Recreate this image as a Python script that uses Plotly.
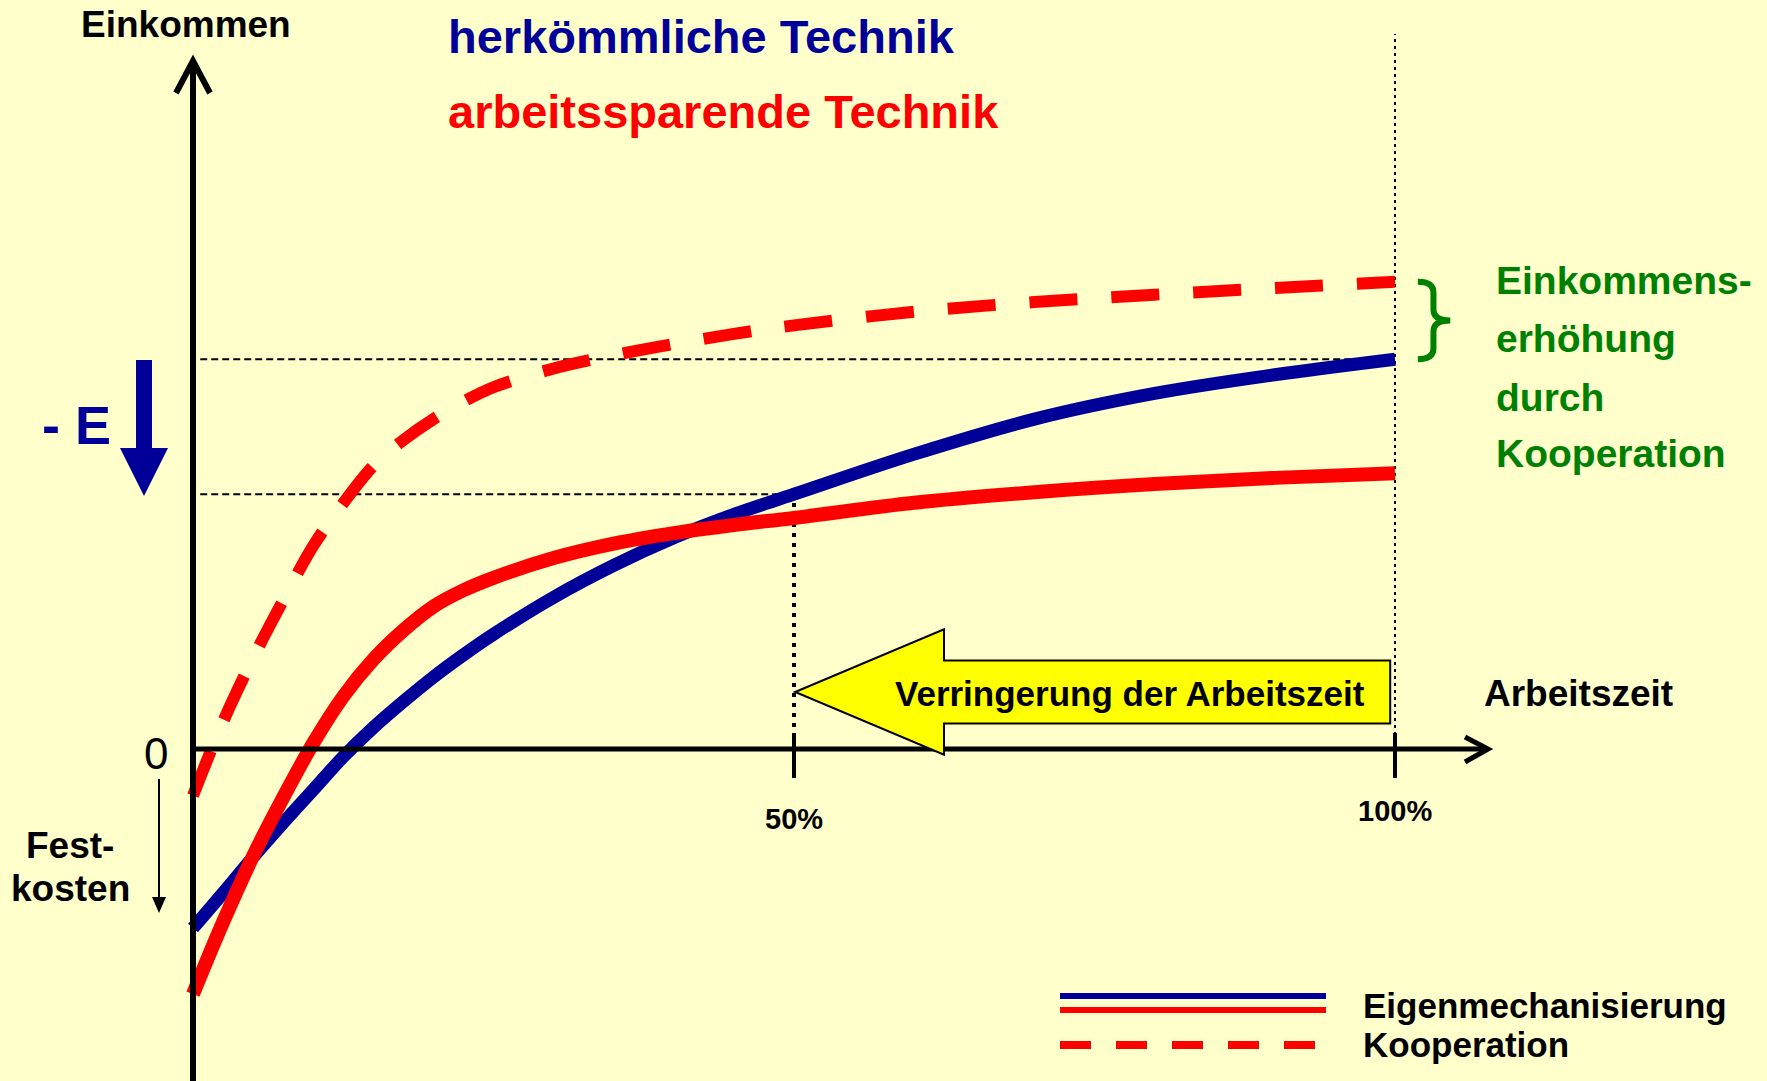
import plotly.graph_objects as go

W, H = 1767, 1081

# ---------------- data ----------------
x_pct = [0, 2.5, 5, 7.5, 10, 12.5, 15, 17.5, 20, 22.5, 25, 30, 35, 40, 45, 50, 60, 70, 80, 90, 100]
# herkömmliche Technik, Eigenmechanisierung (blue solid)
blue_eigen = [-46, -37, -27.8, -19, -10.5, -2, 5.5, 12.2, 18.5, 24.2, 29.5, 39, 47.2, 54.3, 60.3, 65.5,
              75.8, 84.8, 91.4, 96.2, 100.2]
# arbeitssparende Technik, Eigenmechanisierung (red solid)
red_eigen = [-63, -44.5, -27.5, -12.5, 1.5, 13.5, 23, 30.5, 36.6, 40.8, 44, 49.1, 52.8, 55.5, 57.6, 59.4,
             63.3, 66, 68.1, 69.7, 70.9]
# arbeitssparende Technik, Kooperation (red dashed)
red_koop = [-12, 7, 23.4, 38.2, 52.2, 63.2, 72.8, 79.4, 84.8, 89.3, 93, 97.8, 101.2, 104.1, 106.7, 108.9,
            112.4, 114.9, 116.8, 118.5, 120.1]

tick_vals = [50, 100]
tick_text = ["50%", "100%"]

NAVY = "#000099"
RED = "#FF0000"
GREEN = "#008000"
BG = "#FFFFCC"
SANS = "Liberation Sans, Arial, sans-serif"

# ---------------- scales ----------------
XPX0, XPPU = 193, 12.02   # pixel of x=0, pixels per percent
YPX0, YPPU = 749, 3.89    # pixel of y=0, pixels per income unit
xr = [-XPX0 / XPPU, (W - XPX0) / XPPU]
yr = [-(H - YPX0) / YPPU, YPX0 / YPPU]


def px(x):
    return x / W


def py(y):
    return 1 - y / H


def xd(p):
    return (p - XPX0) / XPPU


def yd(p):
    return (YPX0 - p) / YPPU


fig = go.Figure()

fig.add_trace(go.Scatter(x=x_pct, y=blue_eigen, mode="lines",
                         line=dict(color=NAVY, width=13, shape="spline", smoothing=1.0),
                         hoverinfo="skip", showlegend=False))
fig.add_trace(go.Scatter(x=x_pct, y=red_eigen, mode="lines",
                         line=dict(color=RED, width=14, shape="spline", smoothing=1.0),
                         hoverinfo="skip", showlegend=False))
fig.add_trace(go.Scatter(x=x_pct, y=red_koop, mode="lines",
                         line=dict(color=RED, width=12, shape="spline", smoothing=1.0, dash="48px,34px"),
                         hoverinfo="skip", showlegend=False))

shapes = []
blue_end = blue_eigen[-1]
blue_50 = blue_eigen[x_pct.index(50)]
koop_end = red_koop[-1]

# guide lines
shapes.append(dict(type="line", xref="x", yref="y", x0=0.6, x1=100, y0=blue_end, y1=blue_end,
                   line=dict(color="black", width=2, dash="7px,4px"), layer="below"))
shapes.append(dict(type="line", xref="x", yref="y", x0=0.6, x1=50, y0=blue_50, y1=blue_50,
                   line=dict(color="black", width=2, dash="7px,4px"), layer="below"))
shapes.append(dict(type="line", xref="x", yref="y", x0=100, x1=100, y0=0, y1=yd(34),
                   line=dict(color="black", width=2, dash="3px,4px"), layer="below"))
shapes.append(dict(type="line", xref="x", yref="y", x0=50, x1=50, y0=yd(757), y1=blue_50,
                   line=dict(color="black", width=4, dash="4px,6px"), layer="below"))

# axes
shapes.append(dict(type="line", xref="x", yref="paper", x0=0, x1=0, y0=0, y1=py(63),
                   line=dict(color="black", width=6)))
shapes.append(dict(type="path", xref="paper", yref="paper",
                   path=f"M {px(176)},{py(93)} L {px(193)},{py(61)} L {px(210)},{py(93)}",
                   line=dict(color="black", width=6)))
shapes.append(dict(type="line", xref="x", yref="y", x0=0, x1=xd(1485), y0=0, y1=0,
                   line=dict(color="black", width=5)))
shapes.append(dict(type="path", xref="paper", yref="paper",
                   path=f"M {px(1465)},{py(737)} L {px(1488)},{py(749)} L {px(1465)},{py(762)}",
                   line=dict(color="black", width=5)))
for t in tick_vals:
    shapes.append(dict(type="line", xref="x", yref="paper", x0=t, x1=t, y0=py(778), y1=py(733),
                       line=dict(color="black", width=4)))

# yellow arrow (tip at 50 %, body to 100 %)
yc, hh, bh, hb = yd(692), 16.1, 8.1, xd(944)
arrow_path = (f"M {50.1},{yc} L {hb},{yc + hh} L {hb},{yc + bh} L {99.6},{yc + bh} "
              f"L {99.6},{yc - bh} L {hb},{yc - bh} L {hb},{yc - hh} Z")
shapes.append(dict(type="path", xref="x", yref="y", path=arrow_path,
                   fillcolor="#FFFF00", line=dict(color="black", width=2)))

# blue "-E" arrow
shapes.append(dict(type="path", xref="paper", yref="paper",
                   path=(f"M {px(136)},{py(360)} L {px(152)},{py(360)} L {px(152)},{py(448)} "
                         f"L {px(168)},{py(448)} L {px(144)},{py(496)} L {px(120)},{py(448)} "
                         f"L {px(136)},{py(448)} Z"),
                   fillcolor=NAVY, line=dict(color=NAVY, width=0)))

# Fixkosten arrow
shapes.append(dict(type="line", xref="paper", yref="paper", x0=px(159), x1=px(159), y0=py(779), y1=py(900),
                   line=dict(color="black", width=2)))
shapes.append(dict(type="path", xref="paper", yref="paper",
                   path=f"M {px(152)},{py(897)} L {px(166)},{py(897)} L {px(159)},{py(913)} Z",
                   fillcolor="black", line=dict(color="black", width=0)))

# green brace between Kooperation end and Eigenmechanisierung end
bx0, bx1, bx2, d = 101.9, 103.2, 104.6, 2.8
ymid = (koop_end + blue_end) / 2
brace = (f"M {bx0},{koop_end} Q {bx1},{koop_end} {bx1},{koop_end - d} "
         f"L {bx1},{ymid + d} Q {bx1},{ymid} {bx2},{ymid} "
         f"Q {bx1},{ymid} {bx1},{ymid - d} L {bx1},{blue_end + d} "
         f"Q {bx1},{blue_end} {bx0},{blue_end}")
shapes.append(dict(type="path", xref="x", yref="y", path=brace, line=dict(color=GREEN, width=6)))

# legend samples
shapes.append(dict(type="line", xref="paper", yref="paper", x0=px(1060), x1=px(1326), y0=py(996), y1=py(996),
                   line=dict(color=NAVY, width=6)))
shapes.append(dict(type="line", xref="paper", yref="paper", x0=px(1060), x1=px(1326), y0=py(1010), y1=py(1010),
                   line=dict(color=RED, width=6)))
shapes.append(dict(type="line", xref="paper", yref="paper", x0=px(1060), x1=px(1316), y0=py(1045), y1=py(1045),
                   line=dict(color=RED, width=8, dash="31px,25px")))

annotations = []


def txt(text, x, y, size, color="black", anchor="center", weight="bold"):
    annotations.append(dict(text=text, x=px(x), y=py(y), xref="paper", yref="paper",
                            xanchor=anchor, yanchor="middle", showarrow=False,
                            font=dict(family=SANS, size=size, color=color, weight=weight)))


txt("Einkommen", 186, 24, 37)
txt("herkömmliche Technik", 446, 37, 47, NAVY, anchor="left")
txt("arbeitssparende Technik", 446, 112, 47, RED, anchor="left")
txt("- E", 76, 425, 54, NAVY)
txt("0", 156, 753, 44, weight="normal")
txt("Fest-", 70, 845, 37)
txt("kosten", 70, 888, 37)
for t, lab, ypx in zip(tick_vals, tick_text, [819, 811]):
    annotations.append(dict(text=lab, x=t, y=py(ypx), xref="x", yref="paper",
                            xanchor="center", yanchor="middle", showarrow=False,
                            font=dict(family=SANS, size=29, color="black", weight="bold")))
txt("Arbeitszeit", 1482, 693, 37, anchor="left")
txt("Verringerung der Arbeitszeit", 1130, 693, 35)
for line, ypx in zip(["Einkommens-", "erhöhung", "durch", "Kooperation"], [280, 338, 397, 453]):
    txt(line, 1494, ypx, 39, GREEN, anchor="left")
txt("Eigenmechanisierung", 1361, 1005, 35, anchor="left")
txt("Kooperation", 1361, 1044, 35, anchor="left")

fig.update_layout(
    width=W, height=H,
    margin=dict(l=0, r=0, t=0, b=0),
    paper_bgcolor=BG, plot_bgcolor=BG,
    xaxis=dict(range=xr, visible=False, fixedrange=True),
    yaxis=dict(range=yr, visible=False, fixedrange=True),
    shapes=shapes, annotations=annotations,
    showlegend=False,
)

fig.write_html("out.html", config={"displayModeBar": False},
               post_script="document.body.style.margin='0px';document.body.style.backgroundColor='#FFFFCC';")
